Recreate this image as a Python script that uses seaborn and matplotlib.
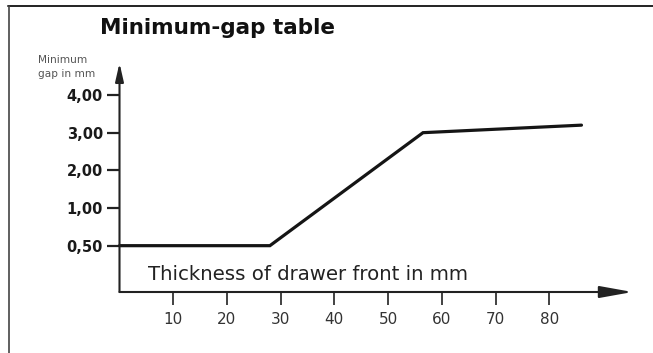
import numpy as np
import pandas as pd
import matplotlib
matplotlib.use("Agg")
import matplotlib.pyplot as plt
from matplotlib.lines import Line2D
import seaborn as sns

# Minimum gap between drawer fronts as a function of front thickness
thickness_mm = [0, 28, 56.5, 86]
min_gap_mm = [0.5, 0.5, 3.0, 3.2]

x_ticks = [10, 20, 30, 40, 50, 60, 70, 80]
y_ticks = [0.5, 1.0, 2.0, 3.0, 4.0]
y_tick_labels = ["0,50", "1,00", "2,00", "3,00", "4,00"]

title = "Minimum-gap table"
x_label = "Thickness of drawer front in mm"
y_label = "Minimum\ngap in mm"

df = pd.DataFrame({"thickness": thickness_mm, "gap": min_gap_mm})

sns.set_style("white")
plt.rcParams["font.family"] = ["DejaVu Sans"]

W, H = 653, 353
fig = plt.figure(figsize=(W / 100, H / 100), dpi=100)

# axes placed in pixel terms: x axis at y=292 px, y axis at x=119.5 px
left_px, right_px = 119.5, 632.5
bottom_px, top_px = 292, 63
ax = fig.add_axes([left_px / W, 1 - bottom_px / H,
                   (right_px - left_px) / W, (bottom_px - top_px) / H])


# the range 0.5..1 is drawn stretched, so 0,50 sits one unit below 1,00
def fwd(y):
    y = np.asarray(y, dtype=float)
    return np.where(y >= 1, y, 2 * y - 1)


def inv(f):
    f = np.asarray(f, dtype=float)
    return np.where(f >= 1, f, (f + 1) / 2)


ax.set_yscale("function", functions=(fwd, inv))

sns.lineplot(data=df, x="thickness", y="gap", ax=ax, color="#151515",
             linewidth=2.3, solid_joinstyle="miter", clip_on=False)

ax.set_xlim(0, 95.5)
ax.set_ylim(inv(-1.23), 4.85)

for s in ax.spines.values():
    s.set_visible(False)

# axes drawn as arrows
ax.annotate("", xy=(1, 0), xycoords="axes fraction", xytext=(0, 0),
            arrowprops=dict(arrowstyle="-|>,head_length=2.0,head_width=0.36",
                            color="#222222", lw=1.5, shrinkA=0, shrinkB=0))
ax.annotate("", xy=(0, 1), xycoords="axes fraction", xytext=(0, 0),
            arrowprops=dict(arrowstyle="-|>,head_length=1.1,head_width=0.25",
                            color="#222222", lw=1.5, shrinkA=0, shrinkB=0))

ax.set_xticks(x_ticks)
ax.set_xticklabels([str(v) for v in x_ticks])
ax.set_yticks(y_ticks)
ax.set_yticklabels(y_tick_labels)
ax.minorticks_off()

ax.tick_params(axis="x", direction="out", length=9.5, width=1.3,
               color="#333333", pad=5, labelsize=11, labelcolor="#333333",
               bottom=True)
ax.tick_params(axis="y", direction="out", length=9.5, width=1.6,
               color="#222222", pad=2.5, labelsize=10.5, labelcolor="#1a1a1a",
               left=True)
for lab in ax.get_yticklabels():
    lab.set_fontweight("bold")
ax.set_xlabel("")
ax.set_ylabel("")
ax.grid(False)

fig.text(307.5 / W, 1 - 275 / H, x_label, ha="center", va="center",
         fontsize=14.2, color="#222222")
fig.text(38 / W, 1 - 67 / H, y_label, ha="left", va="center",
         fontsize=7.6, color="#555555", linespacing=1.55)
fig.text(218 / W, 1 - 28 / H, title, ha="center", va="center",
         fontsize=15.5, fontweight="heavy", color="#111111")

# frame lines along the top and left edges
fig.add_artist(Line2D([8 / W, 1], [1 - 6 / H, 1 - 6 / H],
                      transform=fig.transFigure, color="#222222", lw=1.4))
fig.add_artist(Line2D([9 / W, 9 / W], [0, 1 - 6 / H],
                      transform=fig.transFigure, color="#444444", lw=1.2))

fig.savefig("out.png", dpi=100)
